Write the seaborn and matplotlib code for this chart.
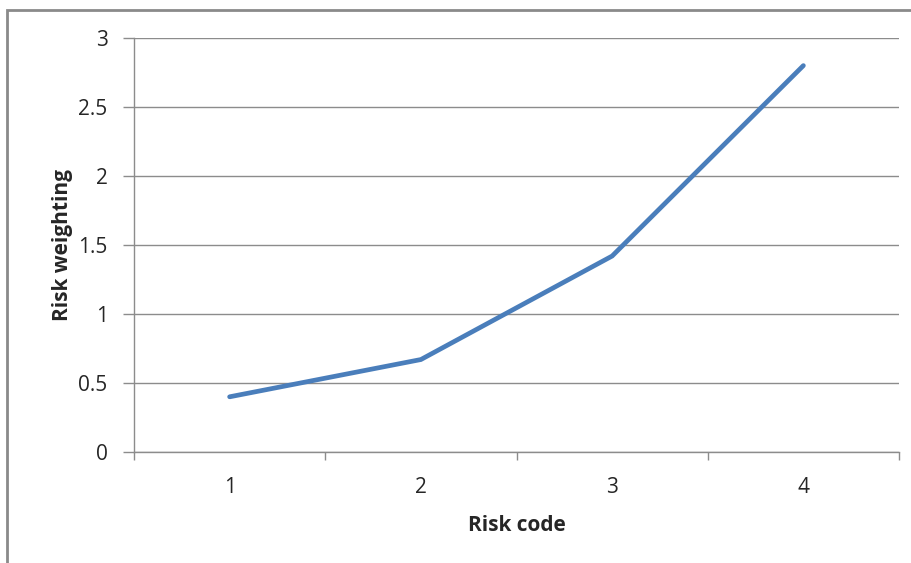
import matplotlib
matplotlib.use("Agg")
import matplotlib.pyplot as plt
import seaborn as sns
import pandas as pd
from matplotlib.patches import Rectangle
from matplotlib.ticker import FixedLocator, MultipleLocator

risk_code = [1, 2, 3, 4]
risk_weighting = [0.40, 0.67, 1.42, 2.80]
x_label = "Risk code"
y_label = "Risk weighting"

df = pd.DataFrame({"code": risk_code, "weight": risk_weighting})

sns.set_style("white")
plt.rcParams["font.family"] = ["Open Sans", "DejaVu Sans"]

fig = plt.figure(figsize=(9.12, 5.63), dpi=100)
ax = fig.add_axes([134/912, 1 - 452/563, (899-134)/912, (452-38)/563])

sns.lineplot(data=df, x="code", y="weight", ax=ax, color="#4a7ebb",
             linewidth=3.4, solid_capstyle="round", solid_joinstyle="miter")

ax.set_xlim(0.5, 4.5)
ax.set_ylim(0, 3)
ax.yaxis.set_major_locator(MultipleLocator(0.5))
ax.set_yticklabels([f"{v:g}" for v in ax.get_yticks()])
ax.set_xticks(risk_code)
ax.set_xticklabels([str(c) for c in risk_code])
ax.xaxis.set_minor_locator(FixedLocator([0.5, 1.5, 2.5, 3.5, 4.5]))

grid_c = "#8c8c8c"
ax.grid(axis="y", color=grid_c, linewidth=1)
ax.set_axisbelow(True)
for s in ["top", "right"]:
    ax.spines[s].set_visible(False)
for s in ["left", "bottom"]:
    ax.spines[s].set_color(grid_c)
    ax.spines[s].set_linewidth(1)

ax.tick_params(axis="y", which="major", direction="out", length=8, width=1,
               color=grid_c, pad=11, labelsize=15, left=True)
ax.tick_params(axis="x", which="major", length=0, pad=18, labelsize=15)
ax.tick_params(axis="x", which="minor", direction="out", length=6, width=1,
               color=grid_c, bottom=True)

ax.set_xlabel(x_label, fontsize=15, fontweight="bold", labelpad=12)
ax.set_ylabel(y_label, fontsize=15, fontweight="bold", labelpad=4)

fig.patches.append(Rectangle((7/912, -0.05), 1.1, 1 - 10/563 + 0.05,
                             transform=fig.transFigure, fill=False,
                             edgecolor="#8a8a8a", linewidth=2))

fig.savefig("out.png", dpi=100)
